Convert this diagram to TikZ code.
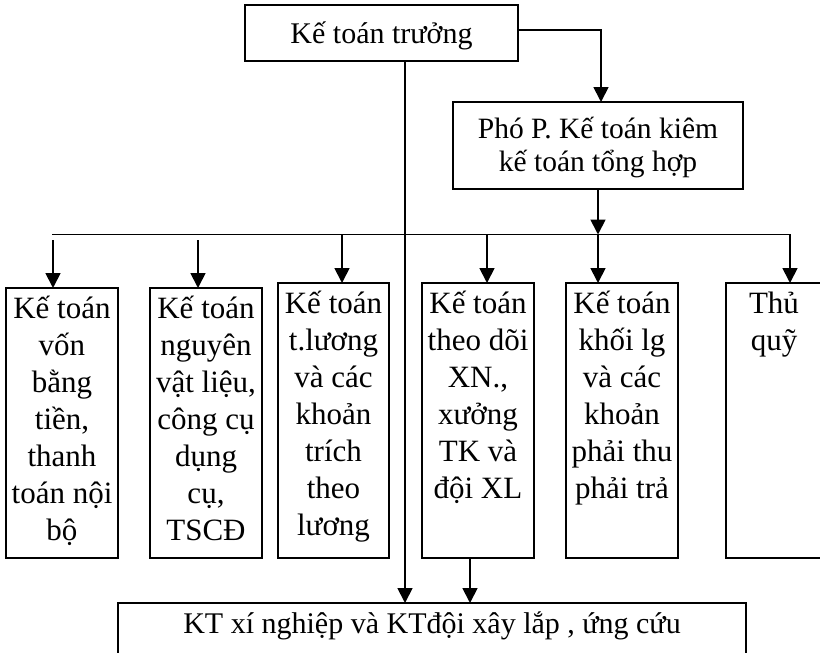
\documentclass[tikz,border=0pt]{standalone}
\usepackage{fontspec}
\setmainfont{Liberation Serif}
\usetikzlibrary{arrows.meta}
\begin{document}
\begin{tikzpicture}[x=1pt,y=-1pt,
  box/.style={draw, line width=1.8pt, inner sep=0pt, outer sep=0pt, anchor=north west},
  txt/.style={inner sep=0pt, align=center, anchor=north, font=\fontsize{31}{37}\selectfont},
  arr/.style={line width=1.8pt, -{Triangle[width=15pt,length=15pt]}},
  ln/.style={line width=1.8pt}]
\useasboundingbox (0,0) rectangle (820,653);
% top boxes
\node[box, minimum width=273pt, minimum height=56pt] (top) at (245,5) {};
\node[inner sep=0pt, anchor=base, font=\fontsize{30}{36}\selectfont] (toptxt) at (381.5,43) {Kế toán trưởng};
\node[box, minimum width=290pt, minimum height=87pt] (pho) at (453,102) {};
\node[txt, font=\fontsize{29.5}{33}\selectfont] (photxt) at (598,108) {\rule{0pt}{30pt}Phó P. Kế toán kiêm\\kế toán tổng hợp};
% six boxes
\node[box, minimum width=112pt, minimum height=270pt] (b1) at (6,288) {};
\node[box, minimum width=112pt, minimum height=270pt] (b2) at (150,288) {};
\node[box, minimum width=111pt, minimum height=275pt] (b3) at (278,283) {};
\node[box, minimum width=112pt, minimum height=275pt] (b4) at (422,283) {};
\node[box, minimum width=112pt, minimum height=275pt] (b5) at (566,283) {};
\node[box, minimum width=96pt, minimum height=275pt] (b6) at (726,283) {};
\node[txt] (t1) at (62,288) {\rule{0pt}{30pt}Kế toán\\vốn\\bằng\\tiền,\\thanh\\toán nội\\bộ};
\node[txt] (t2) at (206,288) {\rule{0pt}{30pt}Kế toán\\nguyên\\vật liệu,\\công cụ\\dụng\\cụ,\\TSCĐ};
\node[txt] (t3) at (333.5,283) {\rule{0pt}{30pt}Kế toán\\t.lương\\và các\\khoản\\trích\\theo\\lương};
\node[txt] (t4) at (478,283) {\rule{0pt}{30pt}Kế toán\\theo dõi\\XN.,\\xưởng\\TK và\\đội XL};
\node[txt] (t5) at (622,283) {\rule{0pt}{30pt}Kế toán\\khối lg\\và các\\khoản\\phải thu\\phải trả};
\node[txt] (t6) at (774,283) {\rule{0pt}{30pt}Thủ\\quỹ};
% bottom box
\node[box, minimum width=628pt, minimum height=60pt] (bot) at (118,603) {};
\node[inner sep=0pt, anchor=base, font=\fontsize{30}{36}\selectfont] (bottxt) at (432,633) {KT xí nghiệp và KTđội xây lắp , ứng cứu};
% coordinates
\coordinate (vx) at (405,0);
\coordinate (busL) at (52,234.5);
\coordinate (busR) at (790,234.5);
\coordinate (a1) at (53,240);
\coordinate (a2) at (198,240);
\coordinate (a3) at (342,234.5);
\coordinate (a4) at (487,234.5);
\coordinate (a5) at (598,234.5);
\coordinate (d4) at (470,0);
% connectors
\draw[arr] ([yshift=3pt]top.east) -| ([xshift=3pt]pho.north);
\draw[arr] (top.south -| vx) -- (bot.north -| vx);
\draw[arr] (pho.south) -- (pho.south |- busL);
\draw[arr] (busL) -- (busR) -- (b6.north -| busR);
\draw[arr] (a1) -- (a1 |- b1.north);
\draw[arr] (a2) -- (a2 |- b2.north);
\draw[arr] (a3) -- (a3 |- b3.north);
\draw[arr] (a4) -- (a4 |- b4.north);
\draw[arr] (a5) -- (a5 |- b5.north);
\draw[arr] (b4.south -| d4) -- (bot.north -| d4);
\end{tikzpicture}
\end{document}
